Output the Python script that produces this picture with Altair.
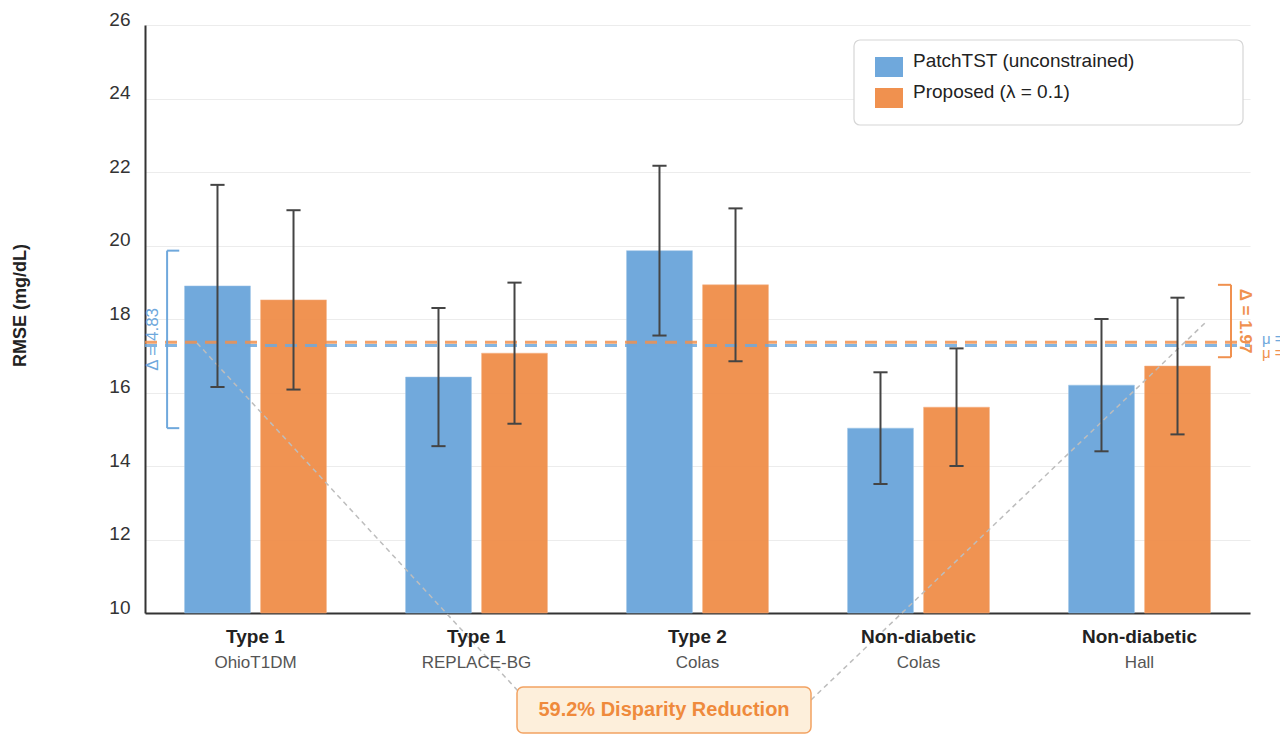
import altair as alt
import pandas as pd

# ---------------- data ----------------
groups = ["Type 1", "Type 1", "Type 2", "Non-diabetic", "Non-diabetic"]
datasets = ["OhioT1DM", "REPLACE-BG", "Colas", "Colas", "Hall"]
series = ["PatchTST (unconstrained)", "Proposed (λ = 0.1)"]
patch_rmse = [18.90, 16.42, 19.86, 15.03, 16.20]
patch_sd = [2.75, 1.88, 2.31, 1.52, 1.80]
prop_rmse = [18.52, 17.07, 18.93, 15.60, 16.72]
prop_sd = [2.44, 1.92, 2.08, 1.60, 1.86]
delta_labels = ["Δ = 4.83", "Δ = 1.97"]
delta_values = [4.83, 1.97]
reduction_label = "59.2% Disparity Reduction"

# ---------------- styles ----------------
BLUE = "#6fa8dc"
ORANGE = "#f0914f"
FONT = "Liberation Sans"
W, H = 1105, 588
OFF, HALF = 0.172, 0.149
CAP = 0.032

rows = []
for i in range(len(groups)):
    for s, (vals, sds) in enumerate([(patch_rmse, patch_sd), (prop_rmse, prop_sd)]):
        c = i + 0.5 + (-OFF if s == 0 else OFF)
        v, sd = vals[i], sds[i]
        rows.append(dict(series=series[s], x0=c - HALF, x1=c + HALF, xc=c,
                         c0=c - CAP, c1=c + CAP, val=v, lo=v - sd, hi=v + sd))
bars = pd.DataFrame(rows)

cats = pd.DataFrame(dict(xc=[i + 0.5 for i in range(len(groups))],
                         group=groups, dataset=datasets))

mean_b = sum(patch_rmse) / len(patch_rmse)
mean_o = sum(prop_rmse) / len(prop_rmse)
means = pd.DataFrame(dict(series=series, m=[mean_b, mean_o],
                          lab=[f"μ = {mean_b:.2f}", f"μ = {mean_o:.2f}"]))

one = pd.DataFrame({"k": [0]})

xs = alt.Scale(domain=[0, 5], nice=False, zero=False)
ys = alt.Scale(domain=[10, 26], nice=False, zero=False)
cscale = alt.Scale(domain=series, range=[BLUE, ORANGE])

legend_box = alt.Chart(one).mark_rect(
    fill="white", stroke="#d6d6d6", strokeWidth=1.2, cornerRadius=6
).encode(x=alt.value(709), x2=alt.value(1098), y=alt.value(15), y2=alt.value(100))

bar_layer = alt.Chart(bars).mark_rect(strokeWidth=1, strokeOpacity=0.5, opacity=0.98).encode(
    x=alt.X("x0:Q", scale=xs, axis=alt.Axis(labels=False, ticks=False, grid=False, title=None,
                                            domainColor="#333333", domainWidth=2)),
    x2="x1:Q",
    y=alt.Y("val:Q", scale=ys, axis=alt.Axis(
        values=list(range(10, 27, 2)), grid=True, gridColor="#ececec", gridWidth=1.2,
        ticks=False, domainColor="#333333", domainWidth=2, labelFontSize=19,
        labelColor="#333333", labelPadding=15, labelOffset=-6,
        title="RMSE (mg/dL)", titleFontSize=18, titleFontWeight="bold", titleColor="#222222",
        titleX=-125, titleY=280, titleAngle=270, titleAlign="center", titleBaseline="middle")),
    y2=alt.datum(10),
    color=alt.Color("series:N", scale=cscale, legend=alt.Legend(
        orient="none", legendX=730, legendY=28, title=None,
        symbolType="M-1,-0.714H1V0.714H-1Z", symbolSize=784, symbolStrokeWidth=0,
        symbolOpacity=1, labelFontSize=19, labelOffset=10, rowPadding=6,
        labelBaseline="alphabetic", padding=0, labelColor="#222222", labelLimit=400)),
    stroke=alt.Color("series:N", scale=alt.Scale(domain=series, range=["#9cc3e8", "#f6b283"]), legend=None),
)

mean_lines = alt.Chart(means).mark_rule(strokeDash=[12, 8], strokeWidth=3, opacity=0.85).encode(
    y=alt.Y("m:Q", scale=ys),
    x=alt.datum(0), x2=alt.datum(5),
    color=alt.Color("series:N", scale=cscale, legend=None),
)

mean_text_b = alt.Chart(means).transform_filter(alt.datum.series == series[0]).mark_text(
    align="left", fontSize=15, dy=-6, color=BLUE).encode(
    x=alt.datum(5.054), y=alt.Y("m:Q", scale=ys), text="lab:N")
mean_text_o = alt.Chart(means).transform_filter(alt.datum.series == series[1]).mark_text(
    align="left", fontSize=15, dy=11, color=ORANGE).encode(
    x=alt.datum(5.054), y=alt.Y("m:Q", scale=ys), text="lab:N")

conn_left = alt.Chart(one).mark_rule(strokeDash=[5, 4], color="#bdbdbd", strokeWidth=1.5).encode(
    x=alt.value(52), y=alt.value(318), x2=alt.value(374), y2=alt.value(667))
conn_right = alt.Chart(one).mark_rule(strokeDash=[5, 4], color="#bdbdbd", strokeWidth=1.5).encode(
    x=alt.value(666), y=alt.value(675), x2=alt.value(1061), y2=alt.value(297))

err = alt.Chart(bars).mark_rule(color="#444444", strokeWidth=2).encode(
    x=alt.X("xc:Q", scale=xs), y=alt.Y("lo:Q", scale=ys), y2="hi:Q")
cap_lo = alt.Chart(bars).mark_rule(color="#444444", strokeWidth=2).encode(
    x=alt.X("c0:Q", scale=xs), x2="c1:Q", y=alt.Y("lo:Q", scale=ys))
cap_hi = alt.Chart(bars).mark_rule(color="#444444", strokeWidth=2).encode(
    x=alt.X("c0:Q", scale=xs), x2="c1:Q", y=alt.Y("hi:Q", scale=ys))

# brackets
b_top, b_bot = max(patch_rmse), min(patch_rmse)
o_top = max(prop_rmse)
o_bot = o_top - delta_values[1]
brk = pd.DataFrame(dict(series=series, xv=[0.1, 4.914], xt=[0.155, 4.855],
                        top=[b_top, o_top], bot=[b_bot, o_bot]))
brk_v = alt.Chart(brk).mark_rule(strokeWidth=2).encode(
    x=alt.X("xv:Q", scale=xs), y=alt.Y("top:Q", scale=ys), y2="bot:Q",
    color=alt.Color("series:N", scale=cscale, legend=None))
brk_t = alt.Chart(brk).mark_rule(strokeWidth=2).encode(
    x=alt.X("xv:Q", scale=xs), x2="xt:Q", y=alt.Y("top:Q", scale=ys),
    color=alt.Color("series:N", scale=cscale, legend=None))
brk_b = alt.Chart(brk).mark_rule(strokeWidth=2).encode(
    x=alt.X("xv:Q", scale=xs), x2="xt:Q", y=alt.Y("bot:Q", scale=ys),
    color=alt.Color("series:N", scale=cscale, legend=None))

dl_b = alt.Chart(pd.DataFrame(dict(t=[delta_labels[0]], y=[(b_top + b_bot) / 2]))).mark_text(
    angle=270, fontSize=17, color=BLUE).encode(
    x=alt.datum(0.036), y=alt.Y("y:Q", scale=ys), text="t:N")
dl_o = alt.Chart(pd.DataFrame(dict(t=[delta_labels[1]], y=[(o_top + o_bot) / 2]))).mark_text(
    angle=90, fontSize=17, fontWeight="bold", color=ORANGE).encode(
    x=alt.datum(4.977), y=alt.Y("y:Q", scale=ys), text="t:N")

cat_main = alt.Chart(cats).mark_text(fontSize=19, fontWeight="bold", color="#222222").encode(
    x=alt.X("xc:Q", scale=xs), y=alt.value(H + 24), text="group:N")
cat_sub = alt.Chart(cats).mark_text(fontSize=17, color="#555555").encode(
    x=alt.X("xc:Q", scale=xs), y=alt.value(H + 50), text="dataset:N")

ann_box = alt.Chart(one).mark_rect(
    fill="#fdefdb", stroke="#f2a262", strokeWidth=1.5, cornerRadius=6
).encode(x=alt.value(372), x2=alt.value(666), y=alt.value(662), y2=alt.value(708))
ann_text = alt.Chart(one).mark_text(fontSize=20, fontWeight="bold", color="#ef8a3c").encode(
    x=alt.value(519), y=alt.value(685), text=alt.value(reduction_label))

chart = alt.layer(
    legend_box, bar_layer, mean_lines, conn_left, conn_right, err, cap_lo, cap_hi,
    brk_v, brk_t, brk_b, dl_b, dl_o, mean_text_b, mean_text_o, cat_main, cat_sub, ann_box, ann_text
).resolve_scale(color="shared", stroke="independent").properties(
    width=W, height=H,
    autosize=alt.AutoSizeParams(type="none"),
    padding={"left": 137, "top": 17, "right": 30, "bottom": 135},
).configure(font=FONT).configure_view(stroke=None)

chart.save("out.html", embed_options={"renderer": "svg", "actions": False})
